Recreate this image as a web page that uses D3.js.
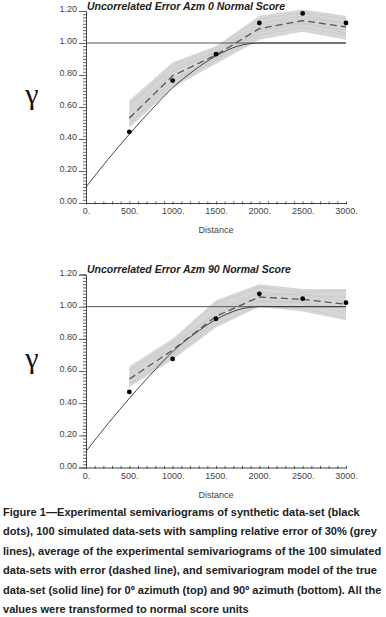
<!DOCTYPE html>
<html>
<head>
<meta charset="utf-8">
<script src="https://cdn.jsdelivr.net/npm/d3@7"></script>
<style>
  body { margin: 0; background: #fff; }
  svg { display: block; }
</style>
</head>
<body>
<div id="chart"></div>
<script>
// lags (distance) and tick values
const lags = [500, 1000, 1500, 2000, 2500, 3000];
const xTicks = [0, 500, 1000, 1500, 2000, 2500, 3000];
const yTicks = [0, 0.2, 0.4, 0.6, 0.8, 1.0, 1.2];

// semivariogram model of the true data-set
const modelLags = [0, 250, 500, 750, 1000, 1250, 1500, 1750, 2000, 3000];
const modelGamma = [0.10, 0.27, 0.43, 0.58, 0.72, 0.83, 0.92, 0.98, 1.00, 1.00];

// azimuth 0
const expAzm0 = [0.445, 0.765, 0.93, 1.125, 1.185, 1.125];
const avgAzm0 = [0.53, 0.795, 0.925, 1.09, 1.14, 1.10];
const hiAzm0 = [0.64, 0.88, 0.98, 1.17, 1.21, 1.17];
const loAzm0 = [0.47, 0.72, 0.87, 1.02, 1.07, 1.02];
const simAzm0 = [
  [0.60, 0.86, 0.97, 1.15, 1.19, 1.15],
  [0.50, 0.74, 0.89, 1.05, 1.10, 1.05],
  [0.56, 0.82, 0.95, 1.12, 1.17, 1.12],
  [0.49, 0.77, 0.91, 1.07, 1.12, 1.08],
  [0.62, 0.84, 0.94, 1.10, 1.15, 1.13],
  [0.54, 0.76, 0.90, 1.08, 1.13, 1.06]
];

// azimuth 90
const expAzm90 = [0.47, 0.675, 0.925, 1.08, 1.05, 1.025];
const avgAzm90 = [0.55, 0.73, 0.94, 1.06, 1.045, 1.015];
const hiAzm90 = [0.63, 0.80, 1.04, 1.14, 1.11, 1.11];
const loAzm90 = [0.50, 0.67, 0.87, 1.00, 0.97, 0.915];
const simAzm90 = [
  [0.61, 0.78, 1.02, 1.12, 1.09, 1.10],
  [0.52, 0.69, 0.89, 1.01, 0.99, 0.93],
  [0.58, 0.75, 0.97, 1.09, 1.07, 1.06],
  [0.51, 0.71, 0.91, 1.04, 1.02, 0.96],
  [0.60, 0.77, 0.95, 1.07, 1.08, 1.03],
  [0.54, 0.70, 0.93, 1.03, 1.03, 0.98]
];

const caption = [
  "Figure 1\u2014Experimental semivariograms of synthetic data-set (black",
  "dots), 100 simulated data-sets with sampling relative error of 30% (grey",
  "lines), average of the experimental semivariograms of the 100 simulated",
  "data-sets with error (dashed line), and semivariogram model of the true",
  "data-set (solid line) for 0\u00ba azimuth (top) and 90\u00ba azimuth (bottom). All the",
  "values were transformed to normal score units"
];

const width = 386, height = 617;
const svg = d3.select("#chart").append("svg")
  .attr("width", width).attr("height", height)
  .style("font-family", "Liberation Sans, Arial, sans-serif");

const x = d3.scaleLinear().domain([0, 3000]).range([86, 346]);

function drawPanel(title, exp, avg, hi, lo, sims, y0, y12) {
  const y = d3.scaleLinear().domain([0, 1.2]).range([y0, y12]);
  const g = svg.append("g");

  // grey band of simulated variograms
  const band = d3.area().x((d, i) => x(lags[i])).y0((d, i) => y(lo[i])).y1(d => y(d));
  g.append("path").datum(hi).attr("d", band).attr("fill", "#d6d6d6");

  const line = d3.line().x((d, i) => x(lags[i])).y(d => y(d));
  g.selectAll(".sim").data(sims).enter().append("path")
    .attr("d", line).attr("fill", "none")
    .attr("stroke", "#c4c4c4").attr("stroke-width", 0.6);

  // sill
  g.append("line").attr("x1", x(0)).attr("x2", x(3000))
    .attr("y1", y(1)).attr("y2", y(1))
    .attr("stroke", "#555").attr("stroke-width", 1);

  // model
  const mline = d3.line().curve(d3.curveMonotoneX)
    .x((d, i) => x(modelLags[i])).y(d => y(d));
  g.append("path").datum(modelGamma).attr("d", mline)
    .attr("fill", "none").attr("stroke", "#333").attr("stroke-width", 0.9);

  // average (dashed)
  g.append("path").datum(avg).attr("d", line)
    .attr("fill", "none").attr("stroke", "#555")
    .attr("stroke-width", 1.3).attr("stroke-dasharray", "7,4");

  // experimental dots
  g.selectAll(".dot").data(exp).enter().append("circle")
    .attr("cx", (d, i) => x(lags[i])).attr("cy", d => y(d))
    .attr("r", 2.4).attr("fill", "#000");

  // axes
  const ax = g.append("g").attr("transform", `translate(0,${y0})`)
    .call(d3.axisBottom(x).tickValues(xTicks).tickSize(0).tickPadding(5)
      .tickFormat(d => d + "."));
  ax.select(".domain").attr("stroke", "#444");
  ax.selectAll("text").attr("font-size", 9).attr("fill", "#444");
  g.append("g").attr("transform", `translate(0,${y0})`)
    .call(d3.axisBottom(x).ticks(30).tickSize(3).tickFormat(""))
    .call(a => a.select(".domain").remove())
    .selectAll("line").attr("stroke", "#555").attr("transform", "translate(0,-1.5)");

  const ay = g.append("g").attr("transform", `translate(${x(0)},0)`)
    .call(d3.axisLeft(y).tickValues(yTicks).tickSize(7).tickPadding(2)
      .tickFormat(d3.format(".2f")));
  ay.select(".domain").attr("stroke", "#444");
  ay.selectAll("line").attr("stroke", "#666");
  ay.selectAll("text").attr("font-size", 9).attr("fill", "#444").attr("dy", "0.1em");
  g.append("g").attr("transform", `translate(${x(0)},0)`)
    .call(d3.axisLeft(y).ticks(48).tickSize(3).tickFormat(""))
    .call(a => a.select(".domain").remove())
    .selectAll("line").attr("stroke", "#666");

  g.append("text").attr("x", x(0) + 1).attr("y", y12 - 1.5)
    .attr("font-size", 10.5).attr("font-weight", "bold").attr("font-style", "italic")
    .attr("fill", "#222").text(title);

  g.append("text").attr("x", 216).attr("y", y0 + 30)
    .attr("text-anchor", "middle").attr("font-size", 9).attr("fill", "#444")
    .text("Distance");

  g.append("text").attr("x", 32).attr("y", y(0.62))
    .attr("text-anchor", "middle").attr("font-size", 30)
    .attr("font-family", "Liberation Serif, Times New Roman, serif")
    .attr("fill", "#111").text("\u03b3");
}

drawPanel("Uncorrelated Error Azm 0 Normal Score", expAzm0, avgAzm0, hiAzm0, loAzm0, simAzm0, 203, 11);
drawPanel("Uncorrelated Error Azm 90 Normal Score", expAzm90, avgAzm90, hiAzm90, loAzm90, simAzm90, 467.5, 274.5);

// caption: size the font so the widest line fits the page like the original
const cap = svg.append("g").selectAll("text").data(caption).enter().append("text")
  .attr("x", 3).attr("y", (d, i) => 516 + i * 19.4)
  .attr("font-family", "Liberation Sans Narrow, Arial Narrow, sans-serif")
  .attr("font-size", 13).attr("font-weight", "bold").attr("fill", "#222")
  .text(d => d);
let widest = d3.max(cap.nodes(), n => n.getComputedTextLength());
cap.attr("font-size", 13 * 379 / widest);
</script>
</body>
</html>
